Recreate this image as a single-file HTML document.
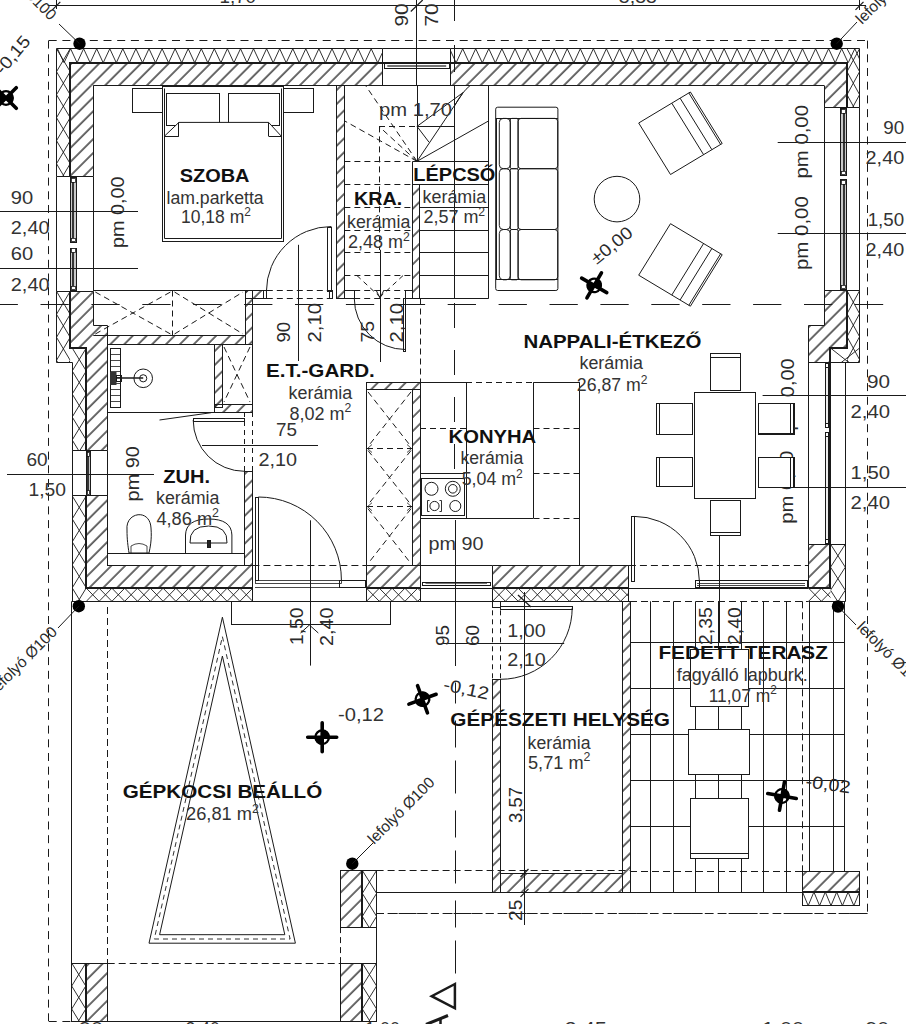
<!DOCTYPE html>
<html><head><meta charset="utf-8"><style>
html,body{margin:0;padding:0;background:#fff;}
svg{display:block;}
</style></head><body>
<svg width="906" height="1024" viewBox="0 0 906 1024">
<defs>
<pattern id="h" patternUnits="userSpaceOnUse" width="9.83" height="10" patternTransform="rotate(45)">
<line x1="6.93" y1="-1" x2="6.93" y2="11" stroke="#1a1a1a" stroke-width="1.3"/>
</pattern>
</defs>
<rect width="906" height="1024" fill="#fff"/>
<line x1="48.7" y1="40.5" x2="867.6" y2="40.5" stroke="#1a1a1a" stroke-width="1" stroke-dasharray="8,5.7"/>
<line x1="48.5" y1="40.6" x2="48.5" y2="1021.0" stroke="#1a1a1a" stroke-width="1" stroke-dasharray="8,5.7"/>
<line x1="867.5" y1="40.6" x2="867.5" y2="913.6" stroke="#1a1a1a" stroke-width="1" stroke-dasharray="8,5.7"/>
<line x1="376.0" y1="913.5" x2="868.0" y2="913.5" stroke="#1a1a1a" stroke-width="1" stroke-dasharray="8,5.7"/>
<line x1="48.7" y1="1021.5" x2="72.0" y2="1021.5" stroke="#1a1a1a" stroke-width="1" stroke-dasharray="8,5.7"/>
<rect x="70.2" y="62.8" width="312.2" height="22.8" fill="url(#h)" stroke="none"/>
<rect x="450.6" y="62.8" width="396.4" height="22.8" fill="url(#h)" stroke="none"/>
<rect x="70.2" y="85.6" width="23.1" height="91.0" fill="url(#h)" stroke="none"/>
<polygon points="70.5,291.5 93.5,291.5 93.5,325.5 107.5,325.5 107.5,450.5 86.5,450.5 86.5,348.5 70.5,348.5" fill="url(#h)" stroke="#1a1a1a" stroke-width="0"/>
<polygon points="86.5,495.5 107.5,495.5 107.5,565.5 252.5,565.5 252.5,588.5 86.5,588.5" fill="url(#h)" stroke="#1a1a1a" stroke-width="0"/>
<rect x="824.3" y="85.6" width="22.7" height="22.0" fill="url(#h)" stroke="none"/>
<polygon points="824.5,290.5 847.5,290.5 847.5,348.5 830.5,348.5 830.5,362.5 808.5,362.5 808.5,325.5 824.5,325.5" fill="url(#h)" stroke="#1a1a1a" stroke-width="0"/>
<rect x="366.5" y="565.6" width="53.9" height="22.6" fill="url(#h)" stroke="none"/>
<rect x="492.6" y="565.6" width="136.3" height="22.6" fill="url(#h)" stroke="none"/>
<rect x="808.6" y="544.2" width="21.9" height="44.0" fill="url(#h)" stroke="none"/>
<clipPath id="c15"><rect x="56.5" y="48.7" width="325.9" height="14.099999999999994"/></clipPath>
<g clip-path="url(#c15)">
<polyline points="44.4,48.7 51.0,62.8 57.5,48.7 64.0,62.8 70.6,48.7 77.1,62.8 83.6,48.7 90.2,62.8 96.7,48.7 103.2,62.8 109.8,48.7 116.3,62.8 122.8,48.7 129.4,62.8 135.9,48.7 142.5,62.8 149.0,48.7 155.5,62.8 162.1,48.7 168.6,62.8 175.1,48.7 181.7,62.8 188.2,48.7 194.7,62.8 201.3,48.7 207.8,62.8 214.3,48.7 220.9,62.8 227.4,48.7 233.9,62.8 240.5,48.7 247.0,62.8 253.5,48.7 260.1,62.8 266.6,48.7 273.2,62.8 279.7,48.7 286.2,62.8 292.8,48.7 299.3,62.8 305.8,48.7 312.4,62.8 318.9,48.7 325.4,62.8 332.0,48.7 338.5,62.8 345.0,48.7 351.6,62.8 358.1,48.7 364.6,62.8 371.2,48.7 377.7,62.8 384.3,48.7 390.8,62.8" fill="none" stroke="#1a1a1a" stroke-width="0.9"/>
</g>
<clipPath id="c19"><rect x="450.6" y="48.7" width="409.0" height="14.099999999999994"/></clipPath>
<g clip-path="url(#c19)">
<polyline points="44.4,48.7 51.0,62.8 57.5,48.7 64.0,62.8 70.6,48.7 77.1,62.8 83.6,48.7 90.2,62.8 96.7,48.7 103.2,62.8 109.8,48.7 116.3,62.8 122.8,48.7 129.4,62.8 135.9,48.7 142.5,62.8 149.0,48.7 155.5,62.8 162.1,48.7 168.6,62.8 175.1,48.7 181.7,62.8 188.2,48.7 194.7,62.8 201.3,48.7 207.8,62.8 214.3,48.7 220.9,62.8 227.4,48.7 233.9,62.8 240.5,48.7 247.0,62.8 253.5,48.7 260.1,62.8 266.6,48.7 273.2,62.8 279.7,48.7 286.2,62.8 292.8,48.7 299.3,62.8 305.8,48.7 312.4,62.8 318.9,48.7 325.4,62.8 332.0,48.7 338.5,62.8 345.0,48.7 351.6,62.8 358.1,48.7 364.6,62.8 371.2,48.7 377.7,62.8 384.3,48.7 390.8,62.8 397.3,48.7 403.9,62.8 410.4,48.7 416.9,62.8 423.5,48.7 430.0,62.8 436.5,48.7 443.1,62.8 449.6,48.7 456.1,62.8 462.7,48.7 469.2,62.8 475.7,48.7 482.3,62.8 488.8,48.7 495.3,62.8 501.9,48.7 508.4,62.8 515.0,48.7 521.5,62.8 528.0,48.7 534.6,62.8 541.1,48.7 547.6,62.8 554.2,48.7 560.7,62.8 567.2,48.7 573.8,62.8 580.3,48.7 586.8,62.8 593.4,48.7 599.9,62.8 606.4,48.7 613.0,62.8 619.5,48.7 626.0,62.8 632.6,48.7 639.1,62.8 645.7,48.7 652.2,62.8 658.7,48.7 665.3,62.8 671.8,48.7 678.3,62.8 684.9,48.7 691.4,62.8 697.9,48.7 704.5,62.8 711.0,48.7 717.5,62.8 724.1,48.7 730.6,62.8 737.1,48.7 743.7,62.8 750.2,48.7 756.7,62.8 763.3,48.7 769.8,62.8 776.3,48.7 782.9,62.8 789.4,48.7 796.0,62.8 802.5,48.7 809.0,62.8 815.6,48.7 822.1,62.8 828.6,48.7 835.2,62.8 841.7,48.7 848.2,62.8 854.8,48.7 861.3,62.8 867.8,48.7" fill="none" stroke="#1a1a1a" stroke-width="0.9"/>
</g>
<clipPath id="c23"><rect x="56.5" y="48.7" width="13.700000000000003" height="127.89999999999999"/></clipPath>
<g clip-path="url(#c23)">
<polyline points="56.5,2.7 70.2,25.7 56.5,48.7 70.2,71.7 56.5,94.7 70.2,117.7 56.5,140.7 70.2,163.7 56.5,186.7 70.2,209.7" fill="none" stroke="#1a1a1a" stroke-width="0.9"/>
<polyline points="70.2,2.7 56.5,25.7 70.2,48.7 56.5,71.7 70.2,94.7 56.5,117.7 70.2,140.7 56.5,163.7 70.2,186.7 56.5,209.7" fill="none" stroke="#1a1a1a" stroke-width="0.9"/>
</g>
<clipPath id="c28"><rect x="56.5" y="291.3" width="13.700000000000003" height="70.69999999999999"/></clipPath>
<g clip-path="url(#c28)">
<polyline points="56.5,245.3 70.2,268.3 56.5,291.3 70.2,314.3 56.5,337.3 70.2,360.3 56.5,383.3 70.2,406.3" fill="none" stroke="#1a1a1a" stroke-width="0.9"/>
<polyline points="70.2,245.3 56.5,268.3 70.2,291.3 56.5,314.3 70.2,337.3 56.5,360.3 70.2,383.3 56.5,406.3" fill="none" stroke="#1a1a1a" stroke-width="0.9"/>
</g>
<clipPath id="c33"><rect x="72.2" y="348" width="14.099999999999994" height="102.69999999999999"/></clipPath>
<g clip-path="url(#c33)">
<polyline points="72.2,302.0 86.3,325.0 72.2,348.0 86.3,371.0 72.2,394.0 86.3,417.0 72.2,440.0 86.3,463.0 72.2,486.0" fill="none" stroke="#1a1a1a" stroke-width="0.9"/>
<polyline points="86.3,302.0 72.2,325.0 86.3,348.0 72.2,371.0 86.3,394.0 72.2,417.0 86.3,440.0 72.2,463.0 86.3,486.0" fill="none" stroke="#1a1a1a" stroke-width="0.9"/>
</g>
<clipPath id="c38"><rect x="72.2" y="495.9" width="14.099999999999994" height="105.39999999999998"/></clipPath>
<g clip-path="url(#c38)">
<polyline points="72.2,449.9 86.3,472.9 72.2,495.9 86.3,518.9 72.2,541.9 86.3,564.9 72.2,587.9 86.3,610.9 72.2,633.9" fill="none" stroke="#1a1a1a" stroke-width="0.9"/>
<polyline points="86.3,449.9 72.2,472.9 86.3,495.9 72.2,518.9 86.3,541.9 72.2,564.9 86.3,587.9 72.2,610.9 86.3,633.9" fill="none" stroke="#1a1a1a" stroke-width="0.9"/>
</g>
<clipPath id="c43"><rect x="847.0" y="48.7" width="12.600000000000023" height="58.89999999999999"/></clipPath>
<g clip-path="url(#c43)">
<polyline points="847.0,2.7 859.6,25.7 847.0,48.7 859.6,71.7 847.0,94.7 859.6,117.7 847.0,140.7" fill="none" stroke="#1a1a1a" stroke-width="0.9"/>
<polyline points="859.6,2.7 847.0,25.7 859.6,48.7 847.0,71.7 859.6,94.7 847.0,117.7 859.6,140.7" fill="none" stroke="#1a1a1a" stroke-width="0.9"/>
</g>
<clipPath id="c48"><rect x="847.0" y="290.7" width="12.600000000000023" height="71.30000000000001"/></clipPath>
<g clip-path="url(#c48)">
<polyline points="847.0,244.7 859.6,267.7 847.0,290.7 859.6,313.7 847.0,336.7 859.6,359.7 847.0,382.7 859.6,405.7" fill="none" stroke="#1a1a1a" stroke-width="0.9"/>
<polyline points="859.6,244.7 847.0,267.7 859.6,290.7 847.0,313.7 859.6,336.7 847.0,359.7 859.6,382.7 847.0,405.7" fill="none" stroke="#1a1a1a" stroke-width="0.9"/>
</g>
<clipPath id="c53"><rect x="830.5" y="348" width="29.100000000000023" height="14"/></clipPath>
<g clip-path="url(#c53)">
<polyline points="830.5,302.0 859.6,325.0 830.5,348.0 859.6,371.0 830.5,394.0" fill="none" stroke="#1a1a1a" stroke-width="0.9"/>
<polyline points="859.6,302.0 830.5,325.0 859.6,348.0 830.5,371.0 859.6,394.0" fill="none" stroke="#1a1a1a" stroke-width="0.9"/>
</g>
<clipPath id="c58"><rect x="830.5" y="544.2" width="14.799999999999955" height="57.09999999999991"/></clipPath>
<g clip-path="url(#c58)">
<polyline points="830.5,498.2 845.3,521.2 830.5,544.2 845.3,567.2 830.5,590.2 845.3,613.2 830.5,636.2" fill="none" stroke="#1a1a1a" stroke-width="0.9"/>
<polyline points="845.3,498.2 830.5,521.2 845.3,544.2 830.5,567.2 845.3,590.2 830.5,613.2 845.3,636.2" fill="none" stroke="#1a1a1a" stroke-width="0.9"/>
</g>
<clipPath id="c63"><rect x="86.3" y="588.2" width="166.10000000000002" height="13.099999999999909"/></clipPath>
<g clip-path="url(#c63)">
<polyline points="60.7,588.2 73.5,601.3 86.3,588.2 99.1,601.3 111.9,588.2 124.7,601.3 137.5,588.2 150.3,601.3 163.1,588.2 175.9,601.3 188.7,588.2 201.5,601.3 214.3,588.2 227.1,601.3 239.9,588.2 252.7,601.3 265.5,588.2" fill="none" stroke="#1a1a1a" stroke-width="0.9"/>
<polyline points="60.7,601.3 73.5,588.2 86.3,601.3 99.1,588.2 111.9,601.3 124.7,588.2 137.5,601.3 150.3,588.2 163.1,601.3 175.9,588.2 188.7,601.3 201.5,588.2 214.3,601.3 227.1,588.2 239.9,601.3 252.7,588.2 265.5,601.3" fill="none" stroke="#1a1a1a" stroke-width="0.9"/>
</g>
<clipPath id="c68"><rect x="366.5" y="588.2" width="53.89999999999998" height="13.099999999999909"/></clipPath>
<g clip-path="url(#c68)">
<polyline points="340.9,588.2 353.7,601.3 366.5,588.2 379.3,601.3 392.1,588.2 404.9,601.3 417.7,588.2 430.5,601.3 443.3,588.2" fill="none" stroke="#1a1a1a" stroke-width="0.9"/>
<polyline points="340.9,601.3 353.7,588.2 366.5,601.3 379.3,588.2 392.1,601.3 404.9,588.2 417.7,601.3 430.5,588.2 443.3,601.3" fill="none" stroke="#1a1a1a" stroke-width="0.9"/>
</g>
<clipPath id="c73"><rect x="492.6" y="588.2" width="136.29999999999995" height="13.099999999999909"/></clipPath>
<g clip-path="url(#c73)">
<polyline points="467.0,588.2 479.8,601.3 492.6,588.2 505.4,601.3 518.2,588.2 531.0,601.3 543.8,588.2 556.6,601.3 569.4,588.2 582.2,601.3 595.0,588.2 607.8,601.3 620.6,588.2 633.4,601.3 646.2,588.2" fill="none" stroke="#1a1a1a" stroke-width="0.9"/>
<polyline points="467.0,601.3 479.8,588.2 492.6,601.3 505.4,588.2 518.2,601.3 531.0,588.2 543.8,601.3 556.6,588.2 569.4,601.3 582.2,588.2 595.0,601.3 607.8,588.2 620.6,601.3 633.4,588.2 646.2,601.3" fill="none" stroke="#1a1a1a" stroke-width="0.9"/>
</g>
<clipPath id="c78"><rect x="808.6" y="588.2" width="21.899999999999977" height="13.099999999999909"/></clipPath>
<g clip-path="url(#c78)">
<polyline points="783.0,588.2 795.8,601.3 808.6,588.2 821.4,601.3 834.2,588.2 847.0,601.3" fill="none" stroke="#1a1a1a" stroke-width="0.9"/>
<polyline points="783.0,601.3 795.8,588.2 808.6,601.3 821.4,588.2 834.2,601.3 847.0,588.2" fill="none" stroke="#1a1a1a" stroke-width="0.9"/>
</g>
<polyline points="382.5,48.5 56.5,48.5 56.5,176.5" fill="none" stroke="#1a1a1a" stroke-width="1"/>
<polyline points="450.5,48.5 859.5,48.5 859.5,107.5" fill="none" stroke="#1a1a1a" stroke-width="1"/>
<polyline points="56.5,291.5 56.5,362.5 72.5,362.5 72.5,450.5" fill="none" stroke="#1a1a1a" stroke-width="1"/>
<polyline points="72.5,495.5 72.5,601.5 252.5,601.5" fill="none" stroke="#1a1a1a" stroke-width="1"/>
<polyline points="859.5,290.5 859.5,362.5 845.5,362.5 845.5,601.5 808.5,601.5" fill="none" stroke="#1a1a1a" stroke-width="1"/>
<line x1="72.0" y1="601.5" x2="628.9" y2="601.5" stroke="#1a1a1a" stroke-width="1"/>
<polyline points="382.0,63.0 70.0,63.0 70.0,177.0" fill="none" stroke="#1a1a1a" stroke-width="2"/>
<polyline points="451.0,63.0 847.0,63.0 847.0,108.0" fill="none" stroke="#1a1a1a" stroke-width="2"/>
<line x1="382.4" y1="63.0" x2="450.6" y2="63.0" stroke="#1a1a1a" stroke-width="2"/>
<polyline points="70.0,291.0 70.0,348.0 86.0,348.0 86.0,451.0" fill="none" stroke="#1a1a1a" stroke-width="2"/>
<polyline points="86.0,496.0 86.0,588.0 252.0,588.0" fill="none" stroke="#1a1a1a" stroke-width="2"/>
<polyline points="847.0,291.0 847.0,348.0 830.0,348.0 830.0,362.0" fill="none" stroke="#1a1a1a" stroke-width="2"/>
<polyline points="830.0,544.0 830.0,588.0 809.0,588.0" fill="none" stroke="#1a1a1a" stroke-width="2"/>
<line x1="366.5" y1="588.0" x2="420.4" y2="588.0" stroke="#1a1a1a" stroke-width="2"/>
<line x1="492.6" y1="588.0" x2="628.9" y2="588.0" stroke="#1a1a1a" stroke-width="2"/>
<line x1="93.3" y1="85.5" x2="824.3" y2="85.5" stroke="#1a1a1a" stroke-width="1"/>
<line x1="93.5" y1="85.6" x2="93.5" y2="176.6" stroke="#1a1a1a" stroke-width="1"/>
<line x1="824.5" y1="85.6" x2="824.5" y2="107.6" stroke="#1a1a1a" stroke-width="1"/>
<line x1="382.5" y1="48.7" x2="382.5" y2="85.6" stroke="#1a1a1a" stroke-width="1"/>
<line x1="450.5" y1="48.7" x2="450.5" y2="85.6" stroke="#1a1a1a" stroke-width="1"/>
<line x1="56.5" y1="176.5" x2="93.3" y2="176.5" stroke="#1a1a1a" stroke-width="1"/>
<line x1="56.5" y1="291.5" x2="93.3" y2="291.5" stroke="#1a1a1a" stroke-width="1"/>
<line x1="72.2" y1="450.5" x2="107.6" y2="450.5" stroke="#1a1a1a" stroke-width="1"/>
<line x1="72.2" y1="495.5" x2="107.6" y2="495.5" stroke="#1a1a1a" stroke-width="1"/>
<line x1="824.3" y1="107.5" x2="859.6" y2="107.5" stroke="#1a1a1a" stroke-width="1"/>
<line x1="824.3" y1="290.5" x2="859.6" y2="290.5" stroke="#1a1a1a" stroke-width="1"/>
<line x1="808.6" y1="362.5" x2="845.3" y2="362.5" stroke="#1a1a1a" stroke-width="1"/>
<line x1="808.6" y1="544.5" x2="845.3" y2="544.5" stroke="#1a1a1a" stroke-width="1"/>
<polyline points="93.5,291.5 93.5,325.5 107.5,325.5 107.5,450.5" fill="none" stroke="#1a1a1a" stroke-width="1"/>
<polyline points="107.5,495.5 107.5,565.5 252.5,565.5" fill="none" stroke="#1a1a1a" stroke-width="1"/>
<polyline points="824.5,290.5 824.5,325.5 808.5,325.5 808.5,362.5" fill="none" stroke="#1a1a1a" stroke-width="1"/>
<line x1="808.5" y1="544.2" x2="808.5" y2="588.2" stroke="#1a1a1a" stroke-width="1"/>
<line x1="252.5" y1="565.6" x2="252.5" y2="601.3" stroke="#1a1a1a" stroke-width="1"/>
<line x1="366.5" y1="565.6" x2="366.5" y2="601.3" stroke="#1a1a1a" stroke-width="1"/>
<line x1="420.5" y1="565.6" x2="420.5" y2="601.3" stroke="#1a1a1a" stroke-width="1"/>
<line x1="492.5" y1="565.6" x2="492.5" y2="601.3" stroke="#1a1a1a" stroke-width="1"/>
<line x1="628.5" y1="565.6" x2="628.5" y2="601.3" stroke="#1a1a1a" stroke-width="1"/>
<line x1="366.5" y1="565.5" x2="420.4" y2="565.5" stroke="#1a1a1a" stroke-width="1"/>
<line x1="492.6" y1="565.5" x2="628.9" y2="565.5" stroke="#1a1a1a" stroke-width="1"/>
<line x1="420.4" y1="565.5" x2="492.6" y2="565.5" stroke="#1a1a1a" stroke-width="1"/>
<line x1="628.9" y1="565.5" x2="808.6" y2="565.5" stroke="#1a1a1a" stroke-width="1" stroke-dasharray="7,4"/>
<line x1="252.4" y1="565.5" x2="366.5" y2="565.5" stroke="#1a1a1a" stroke-width="1" stroke-dasharray="7,4"/>
<rect x="384.5" y="63.5" width="65.0" height="5.0" fill="none" stroke="#1a1a1a" stroke-width="1"/>
<line x1="387.3" y1="65.5" x2="446.2" y2="65.5" stroke="#1a1a1a" stroke-width="0.6"/>
<line x1="387.3" y1="66.5" x2="446.2" y2="66.5" stroke="#1a1a1a" stroke-width="0.6"/>
<line x1="382.4" y1="85.5" x2="450.6" y2="85.5" stroke="#1a1a1a" stroke-width="1"/>
<line x1="382.4" y1="48.5" x2="450.6" y2="48.5" stroke="#1a1a1a" stroke-width="1"/>
<rect x="70.5" y="177.5" width="6.0" height="65.0" fill="#c8c8c8" stroke="#1a1a1a" stroke-width="1"/>
<rect x="71.5" y="178.5" width="4.0" height="4.0" fill="#fff" stroke="#1a1a1a" stroke-width="0.8"/>
<rect x="71.5" y="238.5" width="4.0" height="3.0" fill="#fff" stroke="#1a1a1a" stroke-width="0.8"/>
<line x1="73.0" y1="182.0" x2="73.0" y2="238.0" stroke="#111" stroke-width="1.6"/>
<rect x="70.5" y="248.5" width="6.0" height="42.0" fill="#c8c8c8" stroke="#1a1a1a" stroke-width="1"/>
<rect x="71.5" y="248.5" width="4.0" height="4.0" fill="#fff" stroke="#1a1a1a" stroke-width="0.8"/>
<rect x="71.5" y="286.5" width="4.0" height="3.0" fill="#fff" stroke="#1a1a1a" stroke-width="0.8"/>
<line x1="73.0" y1="252.5" x2="73.0" y2="286.0" stroke="#111" stroke-width="1.6"/>
<line x1="93.5" y1="176.6" x2="93.5" y2="291.3" stroke="#1a1a1a" stroke-width="1"/>
<line x1="56.5" y1="176.6" x2="56.5" y2="291.3" stroke="#1a1a1a" stroke-width="1"/>
<rect x="86.5" y="451.5" width="4.0" height="44.0" fill="#c8c8c8" stroke="#1a1a1a" stroke-width="1"/>
<rect x="87.5" y="452.5" width="2.0" height="4.0" fill="#fff" stroke="#1a1a1a" stroke-width="0.8"/>
<rect x="87.5" y="490.5" width="2.0" height="4.0" fill="#fff" stroke="#1a1a1a" stroke-width="0.8"/>
<line x1="88.0" y1="456.0" x2="88.0" y2="490.5" stroke="#111" stroke-width="1.6"/>
<line x1="107.5" y1="450.7" x2="107.5" y2="495.9" stroke="#1a1a1a" stroke-width="1"/>
<line x1="72.5" y1="450.7" x2="72.5" y2="495.9" stroke="#1a1a1a" stroke-width="1"/>
<rect x="840.5" y="108.5" width="6.0" height="67.0" fill="#c8c8c8" stroke="#1a1a1a" stroke-width="1"/>
<rect x="841.5" y="109.5" width="4.0" height="4.0" fill="#fff" stroke="#1a1a1a" stroke-width="0.8"/>
<rect x="841.5" y="171.5" width="4.0" height="3.0" fill="#fff" stroke="#1a1a1a" stroke-width="0.8"/>
<line x1="844.0" y1="113.0" x2="844.0" y2="171.0" stroke="#111" stroke-width="1.6"/>
<rect x="840.5" y="179.5" width="6.0" height="110.0" fill="#c8c8c8" stroke="#1a1a1a" stroke-width="1"/>
<rect x="841.5" y="180.5" width="4.0" height="4.0" fill="#fff" stroke="#1a1a1a" stroke-width="0.8"/>
<rect x="841.5" y="285.5" width="4.0" height="3.0" fill="#fff" stroke="#1a1a1a" stroke-width="0.8"/>
<line x1="844.0" y1="184.0" x2="844.0" y2="285.0" stroke="#111" stroke-width="1.6"/>
<line x1="824.5" y1="107.6" x2="824.5" y2="290.7" stroke="#1a1a1a" stroke-width="1"/>
<line x1="859.5" y1="107.6" x2="859.5" y2="290.7" stroke="#1a1a1a" stroke-width="1"/>
<line x1="830.0" y1="362.0" x2="830.0" y2="544.2" stroke="#1a1a1a" stroke-width="2"/>
<rect x="825.5" y="363.5" width="3.0" height="64.0" fill="#eee" stroke="#1a1a1a" stroke-width="1"/>
<rect x="825.5" y="363.5" width="3.0" height="4.0" fill="#fff" stroke="#1a1a1a" stroke-width="1"/>
<rect x="825.5" y="423.5" width="3.0" height="4.0" fill="#fff" stroke="#1a1a1a" stroke-width="1"/>
<rect x="825.5" y="432.5" width="3.0" height="111.0" fill="#eee" stroke="#1a1a1a" stroke-width="1"/>
<rect x="825.5" y="432.5" width="3.0" height="4.0" fill="#fff" stroke="#1a1a1a" stroke-width="1"/>
<rect x="825.5" y="539.5" width="3.0" height="4.0" fill="#fff" stroke="#1a1a1a" stroke-width="1"/>
<line x1="845.5" y1="362.0" x2="845.5" y2="544.2" stroke="#1a1a1a" stroke-width="1"/>
<rect x="422.5" y="582.5" width="68.0" height="3.0" fill="none" stroke="#1a1a1a" stroke-width="1"/>
<line x1="425.5" y1="583.5" x2="487.0" y2="583.5" stroke="#1a1a1a" stroke-width="0.6"/>
<line x1="425.5" y1="585.5" x2="487.0" y2="585.5" stroke="#1a1a1a" stroke-width="0.6"/>
<line x1="420.4" y1="588.5" x2="492.6" y2="588.5" stroke="#1a1a1a" stroke-width="1"/>
<rect x="695.5" y="580.5" width="112.0" height="7.0" fill="none" stroke="#1a1a1a" stroke-width="1"/>
<line x1="697.0" y1="583.5" x2="805.0" y2="583.5" stroke="#1a1a1a" stroke-width="0.8"/>
<line x1="697.0" y1="585.5" x2="805.0" y2="585.5" stroke="#1a1a1a" stroke-width="0.8"/>
<line x1="628.9" y1="588.5" x2="808.6" y2="588.5" stroke="#1a1a1a" stroke-width="1"/>
<rect x="336.5" y="85.5" width="8.0" height="213.0" fill="url(#h)" stroke="#1a1a1a" stroke-width="1"/>
<rect x="412.5" y="184.5" width="7.0" height="114.0" fill="url(#h)" stroke="#1a1a1a" stroke-width="1"/>
<line x1="412.5" y1="161.4" x2="412.5" y2="184.2" stroke="#1a1a1a" stroke-width="1"/>
<rect x="245.5" y="290.5" width="18.0" height="8.0" fill="url(#h)" stroke="#1a1a1a" stroke-width="1"/>
<line x1="93.3" y1="290.5" x2="245.0" y2="290.5" stroke="#1a1a1a" stroke-width="1"/>
<rect x="263.5" y="290.5" width="3.0" height="8.0" fill="none" stroke="#1a1a1a" stroke-width="1"/>
<rect x="329.5" y="290.5" width="3.0" height="8.0" fill="none" stroke="#1a1a1a" stroke-width="1"/>
<rect x="344.5" y="290.5" width="10.0" height="8.0" fill="none" stroke="#1a1a1a" stroke-width="1"/>
<rect x="405.5" y="290.5" width="7.0" height="8.0" fill="none" stroke="#1a1a1a" stroke-width="1"/>
<line x1="266.8" y1="290.5" x2="329.4" y2="290.5" stroke="#1a1a1a" stroke-width="1" stroke-dasharray="6,4"/>
<line x1="266.8" y1="298.5" x2="329.4" y2="298.5" stroke="#1a1a1a" stroke-width="1" stroke-dasharray="6,4"/>
<line x1="354.2" y1="290.5" x2="405.9" y2="290.5" stroke="#1a1a1a" stroke-width="1" stroke-dasharray="6,4"/>
<line x1="354.2" y1="298.5" x2="405.9" y2="298.5" stroke="#1a1a1a" stroke-width="1" stroke-dasharray="6,4"/>
<line x1="252.4" y1="298.5" x2="263.8" y2="298.5" stroke="#1a1a1a" stroke-width="1"/>
<rect x="93.3" y="290.5" width="79.2" height="45.1" fill="none" stroke="none"/>
<line x1="93.3" y1="335.5" x2="245.0" y2="335.5" stroke="#1a1a1a" stroke-width="1"/>
<line x1="172.5" y1="290.5" x2="172.5" y2="335.6" stroke="#1a1a1a" stroke-width="1" stroke-dasharray="6,4"/>
<line x1="95.3" y1="292.0" x2="170.5" y2="334.0" stroke="#1a1a1a" stroke-width="1" stroke-dasharray="6,4"/>
<line x1="95.3" y1="334.0" x2="170.5" y2="292.0" stroke="#1a1a1a" stroke-width="1" stroke-dasharray="6,4"/>
<line x1="174.5" y1="292.0" x2="243.0" y2="334.0" stroke="#1a1a1a" stroke-width="1" stroke-dasharray="6,4"/>
<line x1="174.5" y1="334.0" x2="243.0" y2="292.0" stroke="#1a1a1a" stroke-width="1" stroke-dasharray="6,4"/>
<rect x="107.5" y="335.5" width="138.0" height="9.0" fill="url(#h)" stroke="#1a1a1a" stroke-width="1"/>
<rect x="245.5" y="290.5" width="7.0" height="54.0" fill="url(#h)" stroke="#1a1a1a" stroke-width="1"/>
<rect x="107.5" y="344.5" width="107.0" height="68.0" fill="none" stroke="#1a1a1a" stroke-width="1"/>
<rect x="214.5" y="344.5" width="8.0" height="63.0" fill="url(#h)" stroke="#1a1a1a" stroke-width="1"/>
<rect x="222.5" y="344.5" width="30.0" height="60.0" fill="none" stroke="#1a1a1a" stroke-width="1"/>
<line x1="224.0" y1="347.0" x2="250.0" y2="402.0" stroke="#1a1a1a" stroke-width="1" stroke-dasharray="6,4"/>
<line x1="250.0" y1="347.0" x2="224.0" y2="402.0" stroke="#1a1a1a" stroke-width="1" stroke-dasharray="6,4"/>
<rect x="214.5" y="404.5" width="38.0" height="8.0" fill="url(#h)" stroke="#1a1a1a" stroke-width="1"/>
<line x1="107.6" y1="412.5" x2="245.0" y2="412.5" stroke="#1a1a1a" stroke-width="1"/>
<rect x="110.5" y="348.5" width="10.0" height="59.0" fill="none" stroke="#1a1a1a" stroke-width="1"/>
<line x1="110.9" y1="354.5" x2="120.2" y2="354.5" stroke="#1a1a1a" stroke-width="0.8"/>
<line x1="110.9" y1="360.5" x2="120.2" y2="360.5" stroke="#1a1a1a" stroke-width="0.8"/>
<line x1="110.9" y1="366.5" x2="120.2" y2="366.5" stroke="#1a1a1a" stroke-width="0.8"/>
<line x1="110.9" y1="371.5" x2="120.2" y2="371.5" stroke="#1a1a1a" stroke-width="0.8"/>
<line x1="110.9" y1="377.5" x2="120.2" y2="377.5" stroke="#1a1a1a" stroke-width="0.8"/>
<line x1="110.9" y1="383.5" x2="120.2" y2="383.5" stroke="#1a1a1a" stroke-width="0.8"/>
<line x1="110.9" y1="389.5" x2="120.2" y2="389.5" stroke="#1a1a1a" stroke-width="0.8"/>
<line x1="110.9" y1="395.5" x2="120.2" y2="395.5" stroke="#1a1a1a" stroke-width="0.8"/>
<line x1="110.9" y1="401.5" x2="120.2" y2="401.5" stroke="#1a1a1a" stroke-width="0.8"/>
<line x1="113.0" y1="378.0" x2="143.2" y2="378.0" stroke="#1a1a1a" stroke-width="1.5"/>
<circle cx="143.2" cy="378.3" r="9.3" fill="none" stroke="#1a1a1a" stroke-width="1"/>
<circle cx="143.2" cy="378.3" r="3.6" fill="none" stroke="#1a1a1a" stroke-width="1"/>
<rect x="110.0" y="372.0" width="6.5" height="13.0" fill="#333" stroke="none"/>
<rect x="116.5" y="375.5" width="5.0" height="6.0" fill="none" stroke="#1a1a1a" stroke-width="1"/>
<line x1="159.5" y1="420.0" x2="211.2" y2="412.7" stroke="#1a1a1a" stroke-width="1"/>
<line x1="244.5" y1="412.0" x2="244.5" y2="471.7" stroke="#1a1a1a" stroke-width="1" stroke-dasharray="5,4"/>
<line x1="252.5" y1="412.0" x2="252.5" y2="471.7" stroke="#1a1a1a" stroke-width="1" stroke-dasharray="5,4"/>
<rect x="244.5" y="471.5" width="8.0" height="94.0" fill="url(#h)" stroke="#1a1a1a" stroke-width="1"/>
<line x1="252.5" y1="298.5" x2="252.5" y2="412.0" stroke="#1a1a1a" stroke-width="1"/>
<rect x="193.5" y="418.5" width="51.0" height="3.0" fill="none" stroke="#1a1a1a" stroke-width="1"/>
<path d="M193.2,420.0 A51.3,51.3 0 0 0 244.5,471.3" fill="none" stroke="#1a1a1a" stroke-width="1"/>
<rect x="107.5" y="553.5" width="137.0" height="12.0" fill="none" stroke="#1a1a1a" stroke-width="1"/>
<path d="M127,530 C125,512 150,508 151,528 C152,540 150,548 149,553 L129,553 C128,546 127,540 127,530 Z" fill="none" stroke="#1a1a1a" stroke-width="1"/>
<path d="M131,553 L131,546 Q139,541 147,546 L147,553" fill="none" stroke="#1a1a1a" stroke-width="0.8"/>
<path d="M185.5,553 L185.5,535 Q186,519 208.7,519 Q231.5,519 231.9,535 L231.9,553" fill="none" stroke="#1a1a1a" stroke-width="1"/>
<path d="M190,543 Q189,526 208.7,526 Q228,526 227,543 Z" fill="none" stroke="#1a1a1a" stroke-width="1"/>
<rect x="207.5" y="540.5" width="3.0" height="7.0" fill="#222" stroke="#1a1a1a" stroke-width="1"/>
<rect x="366.5" y="382.5" width="54.0" height="7.0" fill="url(#h)" stroke="#1a1a1a" stroke-width="1"/>
<rect x="412.5" y="389.5" width="8.0" height="176.0" fill="url(#h)" stroke="#1a1a1a" stroke-width="1"/>
<line x1="366.5" y1="382.3" x2="366.5" y2="565.6" stroke="#1a1a1a" stroke-width="1"/>
<line x1="368.0" y1="391.9" x2="411.0" y2="446.5" stroke="#1a1a1a" stroke-width="1" stroke-dasharray="6,4"/>
<line x1="411.0" y1="391.9" x2="368.0" y2="446.5" stroke="#1a1a1a" stroke-width="1" stroke-dasharray="6,4"/>
<line x1="368.0" y1="450.5" x2="411.0" y2="504.7" stroke="#1a1a1a" stroke-width="1" stroke-dasharray="6,4"/>
<line x1="411.0" y1="450.5" x2="368.0" y2="504.7" stroke="#1a1a1a" stroke-width="1" stroke-dasharray="6,4"/>
<line x1="368.0" y1="508.7" x2="411.0" y2="563.6" stroke="#1a1a1a" stroke-width="1" stroke-dasharray="6,4"/>
<line x1="411.0" y1="508.7" x2="368.0" y2="563.6" stroke="#1a1a1a" stroke-width="1" stroke-dasharray="6,4"/>
<line x1="367.0" y1="448.5" x2="412.0" y2="448.5" stroke="#1a1a1a" stroke-width="1" stroke-dasharray="6,4"/>
<polyline points="372.0,444.5 367.5,448.5 372.0,452.5" fill="none" stroke="#1a1a1a" stroke-width="0.8"/>
<polyline points="407.0,444.5 411.5,448.5 407.0,452.5" fill="none" stroke="#1a1a1a" stroke-width="0.8"/>
<line x1="367.0" y1="506.5" x2="412.0" y2="506.5" stroke="#1a1a1a" stroke-width="1" stroke-dasharray="6,4"/>
<polyline points="372.0,502.7 367.5,506.7 372.0,510.7" fill="none" stroke="#1a1a1a" stroke-width="0.8"/>
<polyline points="407.0,502.7 411.5,506.7 407.0,510.7" fill="none" stroke="#1a1a1a" stroke-width="0.8"/>
<rect x="255.5" y="497.5" width="3.0" height="83.0" fill="none" stroke="#1a1a1a" stroke-width="1"/>
<path d="M258.4,497.0 A83.0,83.0 0 0 1 341.4,580.0" fill="none" stroke="#1a1a1a" stroke-width="1"/>
<rect x="255.5" y="580.5" width="86.0" height="3.0" fill="none" stroke="#1a1a1a" stroke-width="0.8"/>
<line x1="255.0" y1="587.5" x2="341.0" y2="587.5" stroke="#1a1a1a" stroke-width="0.8"/>
<rect x="339.5" y="580.5" width="26.0" height="7.0" fill="none" stroke="#1a1a1a" stroke-width="1"/>
<line x1="310.5" y1="520.3" x2="310.5" y2="665.6" stroke="#1a1a1a" stroke-width="1"/>
<rect x="231.5" y="601.5" width="159.0" height="23.0" fill="none" stroke="#1a1a1a" stroke-width="1"/>
<line x1="420.0" y1="382.5" x2="466.0" y2="382.5" stroke="#1a1a1a" stroke-width="1"/>
<line x1="466.0" y1="382.5" x2="533.5" y2="382.5" stroke="#1a1a1a" stroke-width="1" stroke-dasharray="6,4"/>
<line x1="533.5" y1="382.5" x2="579.8" y2="382.5" stroke="#1a1a1a" stroke-width="1"/>
<line x1="466.5" y1="382.3" x2="466.5" y2="518.0" stroke="#1a1a1a" stroke-width="1"/>
<line x1="533.5" y1="382.3" x2="533.5" y2="518.0" stroke="#1a1a1a" stroke-width="1"/>
<line x1="579.5" y1="382.3" x2="579.5" y2="565.6" stroke="#1a1a1a" stroke-width="1"/>
<line x1="420.0" y1="518.5" x2="533.5" y2="518.5" stroke="#1a1a1a" stroke-width="1"/>
<line x1="533.5" y1="518.5" x2="579.8" y2="518.5" stroke="#1a1a1a" stroke-width="1" stroke-dasharray="6,4"/>
<line x1="533.5" y1="428.5" x2="579.8" y2="428.5" stroke="#1a1a1a" stroke-width="1" stroke-dasharray="6,4"/>
<line x1="533.5" y1="473.5" x2="579.8" y2="473.5" stroke="#1a1a1a" stroke-width="1" stroke-dasharray="6,4"/>
<line x1="420.0" y1="428.5" x2="466.0" y2="428.5" stroke="#1a1a1a" stroke-width="1" stroke-dasharray="6,4"/>
<rect x="421.5" y="478.5" width="43.0" height="37.0" fill="none" stroke="#1a1a1a" stroke-width="1"/>
<line x1="421.0" y1="473.5" x2="464.9" y2="473.5" stroke="#1a1a1a" stroke-width="1"/>
<circle cx="431.5" cy="488.8" r="6.5" fill="none" stroke="#1a1a1a" stroke-width="1"/>
<circle cx="452.8" cy="488.8" r="7.5" fill="none" stroke="#1a1a1a" stroke-width="1"/>
<circle cx="452.8" cy="488.8" r="4.3" fill="none" stroke="#1a1a1a" stroke-width="1"/>
<circle cx="434.5" cy="506.0" r="4.6" fill="none" stroke="#1a1a1a" stroke-width="1"/>
<circle cx="455.3" cy="506.0" r="5.5" fill="none" stroke="#1a1a1a" stroke-width="1"/>
<polyline points="429.5,500.5 427.5,500.5 427.5,511.5 429.5,511.5" fill="none" stroke="#1a1a1a" stroke-width="0.9"/>
<polyline points="439.5,500.5 441.5,500.5 441.5,511.5 439.5,511.5" fill="none" stroke="#1a1a1a" stroke-width="0.9"/>
<rect x="631.5" y="516.5" width="3.0" height="65.0" fill="none" stroke="#1a1a1a" stroke-width="1"/>
<path d="M634.4,516.4 A65.0,65.0 0 0 1 699.4,581.4" fill="none" stroke="#1a1a1a" stroke-width="1"/>
<line x1="699.5" y1="580.6" x2="699.5" y2="587.5" stroke="#1a1a1a" stroke-width="1"/>
<line x1="492.5" y1="601.3" x2="492.5" y2="679.3" stroke="#1a1a1a" stroke-width="1" stroke-dasharray="5,4"/>
<line x1="500.5" y1="601.3" x2="500.5" y2="679.3" stroke="#1a1a1a" stroke-width="1" stroke-dasharray="5,4"/>
<rect x="492.5" y="601.5" width="8.0" height="6.0" fill="none" stroke="#1a1a1a" stroke-width="1"/>
<rect x="492.5" y="679.5" width="8.0" height="213.0" fill="url(#h)" stroke="#1a1a1a" stroke-width="1"/>
<rect x="622.5" y="601.5" width="8.0" height="291.0" fill="url(#h)" stroke="#1a1a1a" stroke-width="1"/>
<rect x="500.5" y="873.5" width="122.0" height="19.0" fill="url(#h)" stroke="#1a1a1a" stroke-width="1"/>
<line x1="500.7" y1="873.5" x2="622.0" y2="873.5" stroke="#1a1a1a" stroke-width="1"/>
<rect x="500.5" y="606.5" width="72.0" height="3.0" fill="none" stroke="#1a1a1a" stroke-width="1"/>
<path d="M572.2,607.8 A71.5,71.5 0 0 1 500.7,679.3" fill="none" stroke="#1a1a1a" stroke-width="1"/>
<line x1="344.5" y1="85.6" x2="344.5" y2="298.5" stroke="#1a1a1a" stroke-width="1"/>
<line x1="488.5" y1="85.6" x2="488.5" y2="298.1" stroke="#1a1a1a" stroke-width="1"/>
<line x1="417.5" y1="85.6" x2="417.5" y2="161.3" stroke="#1a1a1a" stroke-width="1"/>
<line x1="454.5" y1="85.6" x2="454.5" y2="298.1" stroke="#1a1a1a" stroke-width="1"/>
<line x1="379.0" y1="126.5" x2="417.0" y2="126.5" stroke="#1a1a1a" stroke-width="1" stroke-dasharray="6,4"/>
<line x1="379.5" y1="126.4" x2="379.5" y2="250.0" stroke="#1a1a1a" stroke-width="1" stroke-dasharray="6,4"/>
<line x1="417.0" y1="126.5" x2="454.5" y2="126.5" stroke="#1a1a1a" stroke-width="1"/>
<line x1="344.4" y1="161.5" x2="412.6" y2="161.5" stroke="#1a1a1a" stroke-width="1" stroke-dasharray="6,4"/>
<line x1="412.6" y1="161.5" x2="488.8" y2="161.5" stroke="#1a1a1a" stroke-width="1"/>
<line x1="344.4" y1="184.5" x2="412.6" y2="184.5" stroke="#1a1a1a" stroke-width="1" stroke-dasharray="6,4"/>
<line x1="419.4" y1="184.5" x2="488.8" y2="184.5" stroke="#1a1a1a" stroke-width="1"/>
<line x1="344.4" y1="207.5" x2="412.6" y2="207.5" stroke="#1a1a1a" stroke-width="1" stroke-dasharray="6,4"/>
<line x1="419.4" y1="207.5" x2="488.8" y2="207.5" stroke="#1a1a1a" stroke-width="1"/>
<line x1="344.4" y1="230.5" x2="412.6" y2="230.5" stroke="#1a1a1a" stroke-width="1" stroke-dasharray="6,4"/>
<line x1="419.4" y1="230.5" x2="488.8" y2="230.5" stroke="#1a1a1a" stroke-width="1"/>
<line x1="344.4" y1="252.5" x2="412.6" y2="252.5" stroke="#1a1a1a" stroke-width="1" stroke-dasharray="6,4"/>
<line x1="419.4" y1="252.5" x2="488.8" y2="252.5" stroke="#1a1a1a" stroke-width="1"/>
<line x1="344.4" y1="275.5" x2="412.6" y2="275.5" stroke="#1a1a1a" stroke-width="1" stroke-dasharray="6,4"/>
<line x1="419.4" y1="275.5" x2="488.8" y2="275.5" stroke="#1a1a1a" stroke-width="1"/>
<line x1="419.4" y1="298.5" x2="488.8" y2="298.5" stroke="#1a1a1a" stroke-width="1"/>
<line x1="417.0" y1="161.3" x2="463.2" y2="92.6" stroke="#1a1a1a" stroke-width="1"/>
<line x1="417.0" y1="161.3" x2="488.8" y2="120.8" stroke="#1a1a1a" stroke-width="1"/>
<line x1="417.0" y1="126.4" x2="429.0" y2="142.2" stroke="#1a1a1a" stroke-width="1"/>
<line x1="417.0" y1="126.4" x2="463.0" y2="92.6" stroke="#1a1a1a" stroke-width="1"/>
<line x1="417.0" y1="161.3" x2="365.7" y2="85.7" stroke="#1a1a1a" stroke-width="1" stroke-dasharray="6,4"/>
<line x1="417.0" y1="161.3" x2="344.4" y2="120.8" stroke="#1a1a1a" stroke-width="1" stroke-dasharray="6,4"/>
<line x1="417.0" y1="161.3" x2="379.0" y2="126.4" stroke="#1a1a1a" stroke-width="1" stroke-dasharray="6,4"/>
<path d="M454.5,106 Q462,92 470,85.6" fill="none" stroke="#1a1a1a" stroke-width="1"/>
<line x1="357.0" y1="275.6" x2="380.0" y2="297.0" stroke="#1a1a1a" stroke-width="1" stroke-dasharray="5,4"/>
<line x1="403.0" y1="275.6" x2="380.0" y2="297.0" stroke="#1a1a1a" stroke-width="1" stroke-dasharray="5,4"/>
<line x1="380.5" y1="249.8" x2="380.5" y2="362.0" stroke="#1a1a1a" stroke-width="1"/>
<polyline points="376.0,290.0 380.0,298.0 384.0,290.0" fill="none" stroke="#1a1a1a" stroke-width="1"/>
<rect x="403.5" y="298.5" width="2.0" height="53.0" fill="none" stroke="#1a1a1a" stroke-width="1"/>
<path d="M354.3,298.5 A51.0,51.0 0 0 0 405.3,349.5" fill="none" stroke="#1a1a1a" stroke-width="1"/>
<rect x="327.5" y="227.5" width="4.0" height="64.0" fill="none" stroke="#1a1a1a" stroke-width="1"/>
<path d="M331.4,226.5 A65.0,65.0 0 0 0 266.4,291.5" fill="none" stroke="#1a1a1a" stroke-width="1"/>
<line x1="298.5" y1="244.8" x2="298.5" y2="361.0" stroke="#1a1a1a" stroke-width="1"/>
<line x1="252.5" y1="412.0" x2="252.5" y2="298.5" stroke="#1a1a1a" stroke-width="1"/>
<rect x="132.5" y="88.5" width="30.0" height="24.0" fill="#fff" stroke="#1a1a1a" stroke-width="1"/>
<rect x="283.5" y="88.5" width="30.0" height="24.0" fill="#fff" stroke="#1a1a1a" stroke-width="1"/>
<rect x="162.5" y="86.5" width="121.0" height="155.0" fill="#fff" stroke="#1a1a1a" stroke-width="1"/>
<polyline points="164.5,88.5 164.5,238.5 281.5,238.5 281.5,88.5" fill="none" stroke="#1a1a1a" stroke-width="1"/>
<rect x="166.5" y="93.5" width="53.0" height="32.0" fill="#fff" stroke="#1a1a1a" stroke-width="1"/>
<rect x="228.5" y="93.5" width="51.0" height="32.0" fill="#fff" stroke="#1a1a1a" stroke-width="1"/>
<polyline points="164.4,136.2 178.9,122.4 268.6,122.4 281.3,136.2" fill="#fff" stroke="#1a1a1a" stroke-width="1"/>
<line x1="178.5" y1="122.4" x2="178.5" y2="136.2" stroke="#1a1a1a" stroke-width="1"/>
<line x1="164.4" y1="136.5" x2="178.9" y2="136.5" stroke="#1a1a1a" stroke-width="1"/>
<line x1="268.5" y1="122.4" x2="268.5" y2="136.2" stroke="#1a1a1a" stroke-width="1"/>
<line x1="268.6" y1="136.5" x2="281.3" y2="136.5" stroke="#1a1a1a" stroke-width="1"/>
<rect x="495.7" y="107.2" width="62.2" height="183.3" rx="2" fill="none" stroke="#1a1a1a" stroke-width="1"/>
<line x1="495.7" y1="118.5" x2="557.9" y2="118.5" stroke="#1a1a1a" stroke-width="1"/>
<line x1="495.7" y1="279.5" x2="557.9" y2="279.5" stroke="#1a1a1a" stroke-width="1"/>
<line x1="496.5" y1="118.4" x2="496.5" y2="279.8" stroke="#1a1a1a" stroke-width="1"/>
<rect x="499.3" y="118.4" width="11" height="50.3" rx="4" fill="none" stroke="#1a1a1a" stroke-width="1"/>
<rect x="510.3" y="118.4" width="7.8" height="50.3" rx="1.5" fill="none" stroke="#1a1a1a" stroke-width="1"/>
<rect x="518.1" y="118.4" width="39.6" height="50.3" rx="3" fill="none" stroke="#1a1a1a" stroke-width="1"/>
<rect x="499.3" y="168.7" width="11" height="60.8" rx="4" fill="none" stroke="#1a1a1a" stroke-width="1"/>
<rect x="510.3" y="168.7" width="7.8" height="60.8" rx="1.5" fill="none" stroke="#1a1a1a" stroke-width="1"/>
<rect x="518.1" y="168.7" width="39.6" height="60.8" rx="3" fill="none" stroke="#1a1a1a" stroke-width="1"/>
<rect x="499.3" y="229.5" width="11" height="50.3" rx="4" fill="none" stroke="#1a1a1a" stroke-width="1"/>
<rect x="510.3" y="229.5" width="7.8" height="50.3" rx="1.5" fill="none" stroke="#1a1a1a" stroke-width="1"/>
<rect x="518.1" y="229.5" width="39.6" height="50.3" rx="3" fill="none" stroke="#1a1a1a" stroke-width="1"/>
<circle cx="617.0" cy="199.1" r="22.8" fill="none" stroke="#1a1a1a" stroke-width="1"/>
<polygon points="638.7,123.0 690.4,92.0 722.2,143.5 670.5,174.5" fill="#fff" stroke="#1a1a1a" stroke-width="1"/>
<line x1="671.8" y1="103.2" x2="703.6" y2="154.7" stroke="#1a1a1a" stroke-width="1"/>
<line x1="680.1" y1="98.2" x2="711.9" y2="149.7" stroke="#1a1a1a" stroke-width="1"/>
<line x1="688.8" y1="92.9" x2="720.6" y2="144.4" stroke="#1a1a1a" stroke-width="1"/>
<polygon points="638.7,275.2 690.4,306.2 722.2,254.7 670.5,223.7" fill="#fff" stroke="#1a1a1a" stroke-width="1"/>
<line x1="671.8" y1="295.0" x2="703.6" y2="243.5" stroke="#1a1a1a" stroke-width="1"/>
<line x1="680.1" y1="300.0" x2="711.9" y2="248.5" stroke="#1a1a1a" stroke-width="1"/>
<line x1="688.8" y1="305.3" x2="720.6" y2="253.8" stroke="#1a1a1a" stroke-width="1"/>
<rect x="694.5" y="392.5" width="61.0" height="106.0" fill="none" stroke="#1a1a1a" stroke-width="1"/>
<rect x="710.5" y="353.5" width="30.0" height="37.0" fill="#fff" stroke="#1a1a1a" stroke-width="1"/>
<line x1="710.4" y1="357.5" x2="740.2" y2="357.5" stroke="#1a1a1a" stroke-width="1"/>
<rect x="710.5" y="500.5" width="30.0" height="35.0" fill="#fff" stroke="#1a1a1a" stroke-width="1"/>
<line x1="710.4" y1="532.5" x2="740.2" y2="532.5" stroke="#1a1a1a" stroke-width="1"/>
<rect x="656.5" y="403.5" width="36.0" height="31.0" fill="#fff" stroke="#1a1a1a" stroke-width="1"/>
<line x1="659.5" y1="403.3" x2="659.5" y2="434.2" stroke="#1a1a1a" stroke-width="1"/>
<rect x="656.5" y="457.5" width="36.0" height="29.0" fill="#fff" stroke="#1a1a1a" stroke-width="1"/>
<line x1="659.5" y1="457.6" x2="659.5" y2="486.8" stroke="#1a1a1a" stroke-width="1"/>
<rect x="758.5" y="403.5" width="36.0" height="31.0" fill="#fff" stroke="#1a1a1a" stroke-width="1"/>
<line x1="791.5" y1="403.3" x2="791.5" y2="434.2" stroke="#1a1a1a" stroke-width="1"/>
<rect x="758.5" y="457.5" width="36.0" height="29.0" fill="#fff" stroke="#1a1a1a" stroke-width="1"/>
<line x1="791.5" y1="457.6" x2="791.5" y2="486.8" stroke="#1a1a1a" stroke-width="1"/>
<line x1="719.5" y1="536.0" x2="719.5" y2="642.0" stroke="#1a1a1a" stroke-width="1"/>
<line x1="650.5" y1="601.3" x2="650.5" y2="871.0" stroke="#1a1a1a" stroke-width="1"/>
<line x1="673.5" y1="601.3" x2="673.5" y2="871.0" stroke="#1a1a1a" stroke-width="1"/>
<line x1="695.5" y1="601.3" x2="695.5" y2="871.0" stroke="#1a1a1a" stroke-width="1"/>
<line x1="718.5" y1="601.3" x2="718.5" y2="871.0" stroke="#1a1a1a" stroke-width="1"/>
<line x1="741.5" y1="601.3" x2="741.5" y2="871.0" stroke="#1a1a1a" stroke-width="1"/>
<line x1="763.5" y1="601.3" x2="763.5" y2="871.0" stroke="#1a1a1a" stroke-width="1"/>
<line x1="786.5" y1="601.3" x2="786.5" y2="871.0" stroke="#1a1a1a" stroke-width="1"/>
<line x1="809.5" y1="601.3" x2="809.5" y2="871.0" stroke="#1a1a1a" stroke-width="1"/>
<line x1="833.5" y1="601.3" x2="833.5" y2="871.0" stroke="#1a1a1a" stroke-width="1"/>
<line x1="844.5" y1="601.3" x2="844.5" y2="871.0" stroke="#1a1a1a" stroke-width="1"/>
<line x1="650.5" y1="871.0" x2="650.5" y2="892.0" stroke="#1a1a1a" stroke-width="1"/>
<line x1="673.5" y1="871.0" x2="673.5" y2="892.0" stroke="#1a1a1a" stroke-width="1"/>
<line x1="695.5" y1="871.0" x2="695.5" y2="892.0" stroke="#1a1a1a" stroke-width="1"/>
<line x1="718.5" y1="871.0" x2="718.5" y2="892.0" stroke="#1a1a1a" stroke-width="1"/>
<line x1="741.5" y1="871.0" x2="741.5" y2="892.0" stroke="#1a1a1a" stroke-width="1"/>
<line x1="763.5" y1="871.0" x2="763.5" y2="892.0" stroke="#1a1a1a" stroke-width="1"/>
<line x1="786.5" y1="871.0" x2="786.5" y2="892.0" stroke="#1a1a1a" stroke-width="1"/>
<line x1="630.0" y1="642.5" x2="844.7" y2="642.5" stroke="#1a1a1a" stroke-width="1"/>
<line x1="630.0" y1="688.5" x2="844.7" y2="688.5" stroke="#1a1a1a" stroke-width="1"/>
<line x1="630.0" y1="734.5" x2="844.7" y2="734.5" stroke="#1a1a1a" stroke-width="1"/>
<line x1="630.0" y1="780.5" x2="844.7" y2="780.5" stroke="#1a1a1a" stroke-width="1"/>
<line x1="630.0" y1="826.5" x2="844.7" y2="826.5" stroke="#1a1a1a" stroke-width="1"/>
<line x1="630.0" y1="601.5" x2="808.6" y2="601.5" stroke="#1a1a1a" stroke-width="1" stroke-dasharray="7,4"/>
<line x1="630.0" y1="871.5" x2="802.5" y2="871.5" stroke="#1a1a1a" stroke-width="1" stroke-dasharray="7,4"/>
<line x1="802.5" y1="601.3" x2="802.5" y2="871.0" stroke="#1a1a1a" stroke-width="1" stroke-dasharray="7,4"/>
<rect x="690.5" y="649.5" width="58.0" height="57.0" fill="#fff" stroke="#1a1a1a" stroke-width="1"/>
<rect x="688.5" y="729.5" width="61.0" height="45.0" fill="#fff" stroke="#1a1a1a" stroke-width="1"/>
<rect x="690.5" y="798.5" width="58.0" height="60.0" fill="#fff" stroke="#1a1a1a" stroke-width="1"/>
<line x1="690.0" y1="853.5" x2="748.8" y2="853.5" stroke="#1a1a1a" stroke-width="1"/>
<rect x="802.5" y="871.5" width="57.0" height="21.0" fill="url(#h)" stroke="#1a1a1a" stroke-width="1"/>
<line x1="802.5" y1="892.0" x2="859.3" y2="892.0" stroke="#1a1a1a" stroke-width="2"/>
<clipPath id="c400"><rect x="802.5" y="892" width="56.799999999999955" height="13.700000000000045"/></clipPath>
<g clip-path="url(#c400)">
<polyline points="791.1,892.0 796.8,905.7 802.5,892.0 808.2,905.7 813.9,892.0 819.6,905.7 825.3,892.0 831.0,905.7 836.7,892.0 842.4,905.7 848.1,892.0 853.8,905.7 859.5,892.0 865.2,905.7" fill="none" stroke="#1a1a1a" stroke-width="0.9"/>
</g>
<rect x="802.5" y="892.5" width="57.0" height="13.0" fill="none" stroke="#1a1a1a" stroke-width="1"/>
<line x1="376.6" y1="892.5" x2="802.5" y2="892.5" stroke="#1a1a1a" stroke-width="1"/>
<line x1="376.6" y1="870.5" x2="630.0" y2="870.5" stroke="#1a1a1a" stroke-width="1" stroke-dasharray="7,4"/>
<line x1="376.6" y1="913.5" x2="868.0" y2="913.5" stroke="#1a1a1a" stroke-width="1" stroke-dasharray="7,4"/>
<line x1="71.5" y1="601.3" x2="71.5" y2="1021.0" stroke="#1a1a1a" stroke-width="1"/>
<line x1="107.5" y1="607.0" x2="107.5" y2="963.0" stroke="#1a1a1a" stroke-width="1" stroke-dasharray="7,4"/>
<line x1="107.7" y1="963.5" x2="340.6" y2="963.5" stroke="#1a1a1a" stroke-width="1" stroke-dasharray="7,4"/>
<line x1="71.7" y1="1021.5" x2="376.6" y2="1021.5" stroke="#1a1a1a" stroke-width="1"/>
<rect x="85.5" y="963.5" width="22.0" height="58.0" fill="url(#h)" stroke="#1a1a1a" stroke-width="1"/>
<clipPath id="c413"><rect x="71.7" y="963" width="14.099999999999994" height="58"/></clipPath>
<g clip-path="url(#c413)">
<polyline points="71.7,917.0 85.8,940.0 71.7,963.0 85.8,986.0 71.7,1009.0 85.8,1032.0 71.7,1055.0" fill="none" stroke="#1a1a1a" stroke-width="0.9"/>
<polyline points="85.8,917.0 71.7,940.0 85.8,963.0 71.7,986.0 85.8,1009.0 71.7,1032.0 85.8,1055.0" fill="none" stroke="#1a1a1a" stroke-width="0.9"/>
</g>
<rect x="71.5" y="963.5" width="36.0" height="58.0" fill="none" stroke="#1a1a1a" stroke-width="1"/>
<line x1="86.0" y1="963.0" x2="86.0" y2="1021.0" stroke="#1a1a1a" stroke-width="2"/>
<rect x="340.5" y="870.5" width="22.0" height="57.0" fill="url(#h)" stroke="#1a1a1a" stroke-width="1"/>
<clipPath id="c421"><rect x="362.3" y="870.4" width="14.300000000000011" height="56.700000000000045"/></clipPath>
<g clip-path="url(#c421)">
<polyline points="362.3,824.4 376.6,847.4 362.3,870.4 376.6,893.4 362.3,916.4 376.6,939.4 362.3,962.4" fill="none" stroke="#1a1a1a" stroke-width="0.9"/>
<polyline points="376.6,824.4 362.3,847.4 376.6,870.4 362.3,893.4 376.6,916.4 362.3,939.4 376.6,962.4" fill="none" stroke="#1a1a1a" stroke-width="0.9"/>
</g>
<rect x="340.5" y="870.5" width="36.0" height="57.0" fill="none" stroke="#1a1a1a" stroke-width="1"/>
<line x1="362.0" y1="870.4" x2="362.0" y2="927.1" stroke="#1a1a1a" stroke-width="2"/>
<rect x="340.5" y="963.5" width="22.0" height="58.0" fill="url(#h)" stroke="#1a1a1a" stroke-width="1"/>
<clipPath id="c429"><rect x="362.3" y="963" width="14.300000000000011" height="58"/></clipPath>
<g clip-path="url(#c429)">
<polyline points="362.3,917.0 376.6,940.0 362.3,963.0 376.6,986.0 362.3,1009.0 376.6,1032.0 362.3,1055.0" fill="none" stroke="#1a1a1a" stroke-width="0.9"/>
<polyline points="376.6,917.0 362.3,940.0 376.6,963.0 362.3,986.0 376.6,1009.0 362.3,1032.0 376.6,1055.0" fill="none" stroke="#1a1a1a" stroke-width="0.9"/>
</g>
<rect x="340.5" y="963.5" width="36.0" height="58.0" fill="none" stroke="#1a1a1a" stroke-width="1"/>
<line x1="362.0" y1="963.0" x2="362.0" y2="1021.0" stroke="#1a1a1a" stroke-width="2"/>
<line x1="340.5" y1="927.1" x2="340.5" y2="963.0" stroke="#1a1a1a" stroke-width="1" stroke-dasharray="6,4"/>
<line x1="376.5" y1="927.1" x2="376.5" y2="963.0" stroke="#1a1a1a" stroke-width="1"/>
<polygon points="222.4,617.2 295.4,943.2 149.0,943.2" fill="none" stroke="#1a1a1a" stroke-width="1"/>
<polygon points="222.4,656.0 284.8,934.7 159.6,934.7" fill="none" stroke="#1a1a1a" stroke-width="1"/>
<polygon points="222.4,636.6 290.1,939.0 154.3,939.0" fill="none" stroke="#1a1a1a" stroke-width="0.9" stroke-dasharray="5,4"/>
<line x1="0" y1="304.5" x2="883.6" y2="304.5" stroke="#1a1a1a" stroke-width="1" stroke-dasharray="28.3,22.6" stroke-dashoffset="10.4"/>
<line x1="47.7" y1="5.5" x2="866.0" y2="5.5" stroke="#1a1a1a" stroke-width="1"/>
<line x1="56.5" y1="0.0" x2="56.5" y2="9.0" stroke="#1a1a1a" stroke-width="1"/>
<line x1="52.3" y1="9.8" x2="60.3" y2="1.8" stroke="#1a1a1a" stroke-width="1.2"/>
<line x1="416.5" y1="0.0" x2="416.5" y2="85.6" stroke="#1a1a1a" stroke-width="1"/>
<line x1="410.8" y1="11.5" x2="422.7" y2="0.0" stroke="#1a1a1a" stroke-width="1.2"/>
<line x1="454.5" y1="0.0" x2="454.5" y2="21.0" stroke="#1a1a1a" stroke-width="1"/>
<line x1="454.5" y1="45.0" x2="454.5" y2="72.0" stroke="#1a1a1a" stroke-width="1"/>
<line x1="859.5" y1="0.0" x2="859.5" y2="10.0" stroke="#1a1a1a" stroke-width="1"/>
<line x1="855.5" y1="9.8" x2="863.5" y2="1.8" stroke="#1a1a1a" stroke-width="1.2"/>
<line x1="0.0" y1="211.5" x2="138.0" y2="211.5" stroke="#1a1a1a" stroke-width="1"/>
<line x1="0.0" y1="268.5" x2="138.0" y2="268.5" stroke="#1a1a1a" stroke-width="1"/>
<line x1="7.0" y1="474.5" x2="154.0" y2="474.5" stroke="#1a1a1a" stroke-width="1"/>
<line x1="777.7" y1="142.5" x2="906.0" y2="142.5" stroke="#1a1a1a" stroke-width="1"/>
<line x1="777.7" y1="233.5" x2="906.0" y2="233.5" stroke="#1a1a1a" stroke-width="1"/>
<line x1="762.6" y1="395.5" x2="906.0" y2="395.5" stroke="#1a1a1a" stroke-width="1"/>
<line x1="758.3" y1="487.5" x2="906.0" y2="487.5" stroke="#1a1a1a" stroke-width="1"/>
<line x1="202.0" y1="445.5" x2="318.0" y2="445.5" stroke="#1a1a1a" stroke-width="1"/>
<line x1="442.4" y1="643.5" x2="564.2" y2="643.5" stroke="#1a1a1a" stroke-width="1"/>
<line x1="524.5" y1="592.0" x2="524.5" y2="925.0" stroke="#1a1a1a" stroke-width="1"/>
<line x1="455.5" y1="520.0" x2="455.5" y2="666.0" stroke="#1a1a1a" stroke-width="1"/>
<line x1="455.5" y1="682.5" x2="455.5" y2="986" stroke="#1a1a1a" stroke-width="1" stroke-dasharray="33,17,27,13" stroke-dashoffset="12"/>
<line x1="454.5" y1="303" x2="454.5" y2="472" stroke="#1a1a1a" stroke-width="1" stroke-dasharray="25,22"/>
<line x1="518.0" y1="595.0" x2="531.0" y2="607.0" stroke="#1a1a1a" stroke-width="1.2"/>
<line x1="309.4" y1="625.0" x2="300.5" y2="633.0" stroke="#1a1a1a" stroke-width="1"/>
<line x1="309.4" y1="625.0" x2="318.3" y2="633.0" stroke="#1a1a1a" stroke-width="1"/>
<line x1="520.5" y1="877.0" x2="528.5" y2="869.0" stroke="#1a1a1a" stroke-width="1.2"/>
<line x1="520.5" y1="896.9" x2="528.5" y2="888.9" stroke="#1a1a1a" stroke-width="1.2"/>
<polygon points="454.9,984.0 431.7,996.2 454.9,1008.3" fill="none" stroke="#1a1a1a" stroke-width="2.5"/>
<circle cx="79.5" cy="43.7" r="6.2" fill="#000" stroke="#1a1a1a" stroke-width="0"/>
<line x1="79.5" y1="43.7" x2="59.0" y2="24.0" stroke="#1a1a1a" stroke-width="1"/>
<circle cx="836.7" cy="43.7" r="6.2" fill="#000" stroke="#1a1a1a" stroke-width="0"/>
<line x1="836.7" y1="43.7" x2="857.0" y2="22.0" stroke="#1a1a1a" stroke-width="1"/>
<circle cx="78.8" cy="606.2" r="6.2" fill="#000" stroke="#1a1a1a" stroke-width="0"/>
<line x1="78.8" y1="606.2" x2="58.0" y2="628.0" stroke="#1a1a1a" stroke-width="1"/>
<circle cx="352.3" cy="863.7" r="6.2" fill="#000" stroke="#1a1a1a" stroke-width="0"/>
<line x1="352.3" y1="863.7" x2="373.0" y2="843.0" stroke="#1a1a1a" stroke-width="1"/>
<circle cx="838.0" cy="606.5" r="6.2" fill="#000" stroke="#1a1a1a" stroke-width="0"/>
<line x1="838.0" y1="606.5" x2="856.0" y2="625.0" stroke="#1a1a1a" stroke-width="1"/>
<g transform="rotate(30 594.2 285.4)">
<circle cx="594.2" cy="285.4" r="6.8" fill="none" stroke="#000" stroke-width="2.2"/>
<path d="M594.2,285.4 L594.2,277.9 A7.5,7.5 0 0 1 601.7,285.4 Z" fill="#000"/>
<path d="M594.2,285.4 L594.2,292.9 A7.5,7.5 0 0 1 586.7,285.4 Z" fill="#000"/>
<path d="M579.7,285.4 L608.7,285.4 M594.2,270.9 L594.2,299.9" stroke="#000" stroke-width="3.6" stroke-linecap="round"/>
</g>
<g transform="rotate(0 322.2 737.2)">
<circle cx="322.2" cy="737.2" r="6.8" fill="none" stroke="#000" stroke-width="2.2"/>
<path d="M322.2,737.2 L322.2,729.7 A7.5,7.5 0 0 1 329.7,737.2 Z" fill="#000"/>
<path d="M322.2,737.2 L322.2,744.7 A7.5,7.5 0 0 1 314.7,737.2 Z" fill="#000"/>
<path d="M307.7,737.2 L336.7,737.2 M322.2,722.7 L322.2,751.7" stroke="#000" stroke-width="3.6" stroke-linecap="round"/>
</g>
<g transform="rotate(-20 422.5 699.2)">
<circle cx="422.5" cy="699.2" r="6.8" fill="none" stroke="#000" stroke-width="2.2"/>
<path d="M422.5,699.2 L422.5,691.7 A7.5,7.5 0 0 1 430.0,699.2 Z" fill="#000"/>
<path d="M422.5,699.2 L422.5,706.7 A7.5,7.5 0 0 1 415.0,699.2 Z" fill="#000"/>
<path d="M408.0,699.2 L437.0,699.2 M422.5,684.7 L422.5,713.7" stroke="#000" stroke-width="3.6" stroke-linecap="round"/>
</g>
<g transform="rotate(10 782 796)">
<circle cx="782.0" cy="796.0" r="6.8" fill="none" stroke="#000" stroke-width="2.2"/>
<path d="M782,796 L782,788.5 A7.5,7.5 0 0 1 789.5,796 Z" fill="#000"/>
<path d="M782,796 L782,803.5 A7.5,7.5 0 0 1 774.5,796 Z" fill="#000"/>
<path d="M767.5,796 L796.5,796 M782,781.5 L782,810.5" stroke="#000" stroke-width="3.6" stroke-linecap="round"/>
</g>
<g transform="rotate(45 6 98)">
<circle cx="6.0" cy="98.0" r="6.8" fill="none" stroke="#000" stroke-width="2.2"/>
<path d="M6,98 L6,90.5 A7.5,7.5 0 0 1 13.5,98 Z" fill="#000"/>
<path d="M6,98 L6,105.5 A7.5,7.5 0 0 1 -1.5,98 Z" fill="#000"/>
<path d="M-8.5,98 L20.5,98 M6,83.5 L6,112.5" stroke="#000" stroke-width="3.6" stroke-linecap="round"/>
</g>
<text x="179.7" y="181.5" font-family="Liberation Sans" font-size="18" font-weight="bold" text-anchor="start" fill="#111" textLength="69.8" lengthAdjust="spacingAndGlyphs">SZOBA</text>
<text x="166.5" y="203.6" font-family="Liberation Sans" font-size="17.5" font-weight="normal" text-anchor="start" fill="#333" textLength="97.1" lengthAdjust="spacingAndGlyphs">lam.parketta</text>
<text x="181.0" y="223.0" font-family="Liberation Sans" font-size="17.5" font-weight="normal" text-anchor="start" fill="#333" textLength="69.9" lengthAdjust="spacingAndGlyphs">10,18 m<tspan font-size="11.9" dy="-7.3">2</tspan></text>
<text x="413.3" y="181.4" font-family="Liberation Sans" font-size="18" font-weight="bold" text-anchor="start" fill="#111" textLength="82.1" lengthAdjust="spacingAndGlyphs">LÉPCSŐ</text>
<text x="422.6" y="202.6" font-family="Liberation Sans" font-size="17.5" font-weight="normal" text-anchor="start" fill="#333" textLength="63.6" lengthAdjust="spacingAndGlyphs">kerámia</text>
<text x="423.4" y="223.3" font-family="Liberation Sans" font-size="17.5" font-weight="normal" text-anchor="start" fill="#333" textLength="61.8" lengthAdjust="spacingAndGlyphs">2,57 m<tspan font-size="11.9" dy="-7.3">2</tspan></text>
<text x="354.1" y="204.7" font-family="Liberation Sans" font-size="18" font-weight="bold" text-anchor="start" fill="#111" textLength="48.1" lengthAdjust="spacingAndGlyphs">KRA.</text>
<text x="347.0" y="227.7" font-family="Liberation Sans" font-size="17.5" font-weight="normal" text-anchor="start" fill="#333" textLength="63.3" lengthAdjust="spacingAndGlyphs">kerámia</text>
<text x="348.0" y="248.0" font-family="Liberation Sans" font-size="17.5" font-weight="normal" text-anchor="start" fill="#333" textLength="61.8" lengthAdjust="spacingAndGlyphs">2,48 m<tspan font-size="11.9" dy="-7.3">2</tspan></text>
<text x="266.0" y="376.7" font-family="Liberation Sans" font-size="18" font-weight="bold" text-anchor="start" fill="#111" textLength="108.8" lengthAdjust="spacingAndGlyphs">E.T.-GARD.</text>
<text x="288.5" y="399.2" font-family="Liberation Sans" font-size="17.5" font-weight="normal" text-anchor="start" fill="#333" textLength="63.8" lengthAdjust="spacingAndGlyphs">kerámia</text>
<text x="289.4" y="419.5" font-family="Liberation Sans" font-size="17.5" font-weight="normal" text-anchor="start" fill="#333" textLength="61.9" lengthAdjust="spacingAndGlyphs">8,02 m<tspan font-size="11.9" dy="-7.3">2</tspan></text>
<text x="523.4" y="347.7" font-family="Liberation Sans" font-size="18" font-weight="bold" text-anchor="start" fill="#111" textLength="178.1" lengthAdjust="spacingAndGlyphs">NAPPALI-ÉTKEZŐ</text>
<text x="579.5" y="369.2" font-family="Liberation Sans" font-size="17.5" font-weight="normal" text-anchor="start" fill="#333" textLength="63.5" lengthAdjust="spacingAndGlyphs">kerámia</text>
<text x="576.8" y="390.8" font-family="Liberation Sans" font-size="17.5" font-weight="normal" text-anchor="start" fill="#333" textLength="70.7" lengthAdjust="spacingAndGlyphs">26,87 m<tspan font-size="11.9" dy="-7.3">2</tspan></text>
<text x="448.6" y="442.9" font-family="Liberation Sans" font-size="18" font-weight="bold" text-anchor="start" fill="#111" textLength="87.6" lengthAdjust="spacingAndGlyphs">KONYHA</text>
<text x="460.5" y="463.6" font-family="Liberation Sans" font-size="17.5" font-weight="normal" text-anchor="start" fill="#333" textLength="62.7" lengthAdjust="spacingAndGlyphs">kerámia</text>
<text x="461.7" y="484.9" font-family="Liberation Sans" font-size="17.5" font-weight="normal" text-anchor="start" fill="#333" textLength="61.1" lengthAdjust="spacingAndGlyphs">5,04 m<tspan font-size="11.9" dy="-7.3">2</tspan></text>
<text x="163.3" y="482.9" font-family="Liberation Sans" font-size="18" font-weight="bold" text-anchor="start" fill="#111" textLength="46.8" lengthAdjust="spacingAndGlyphs">ZUH.</text>
<text x="156.0" y="503.9" font-family="Liberation Sans" font-size="17.5" font-weight="normal" text-anchor="start" fill="#333" textLength="63.4" lengthAdjust="spacingAndGlyphs">kerámia</text>
<text x="156.4" y="524.6" font-family="Liberation Sans" font-size="17.5" font-weight="normal" text-anchor="start" fill="#333" textLength="62.6" lengthAdjust="spacingAndGlyphs">4,86 m<tspan font-size="11.9" dy="-7.3">2</tspan></text>
<text x="658.4" y="659.4" font-family="Liberation Sans" font-size="18" font-weight="bold" text-anchor="start" fill="#111" textLength="169.5" lengthAdjust="spacingAndGlyphs">FEDETT TERASZ</text>
<text x="676.8" y="680.7" font-family="Liberation Sans" font-size="17.5" font-weight="normal" text-anchor="start" fill="#333" textLength="130.9" lengthAdjust="spacingAndGlyphs">fagyálló lapburk.</text>
<text x="708.7" y="701.7" font-family="Liberation Sans" font-size="17.5" font-weight="normal" text-anchor="start" fill="#333" textLength="68.2" lengthAdjust="spacingAndGlyphs">11,07 m<tspan font-size="11.9" dy="-7.3">2</tspan></text>
<text x="450.3" y="725.8" font-family="Liberation Sans" font-size="18" font-weight="bold" text-anchor="start" fill="#111" textLength="219.7" lengthAdjust="spacingAndGlyphs">GÉPÉSZETI HELYSÉG</text>
<text x="527.6" y="748.5" font-family="Liberation Sans" font-size="17.5" font-weight="normal" text-anchor="start" fill="#333" textLength="62.9" lengthAdjust="spacingAndGlyphs">kerámia</text>
<text x="528.0" y="768.6" font-family="Liberation Sans" font-size="17.5" font-weight="normal" text-anchor="start" fill="#333" textLength="62.5" lengthAdjust="spacingAndGlyphs">5,71 m<tspan font-size="11.9" dy="-7.3">2</tspan></text>
<text x="122.8" y="798.0" font-family="Liberation Sans" font-size="18" font-weight="bold" text-anchor="start" fill="#111" textLength="199.4" lengthAdjust="spacingAndGlyphs">GÉPKOCSI BEÁLLÓ</text>
<text x="186.0" y="820.4" font-family="Liberation Sans" font-size="17.5" font-weight="normal" text-anchor="start" fill="#333" textLength="73.0" lengthAdjust="spacingAndGlyphs">26,81 m<tspan font-size="11.9" dy="-7.3">2</tspan></text>
<text x="379.0" y="115.7" font-family="Liberation Sans" font-size="17.5" font-weight="normal" text-anchor="start" fill="#333" textLength="73.0" lengthAdjust="spacingAndGlyphs">pm 1,70</text>
<text x="428.5" y="549.8" font-family="Liberation Sans" font-size="17.5" font-weight="normal" text-anchor="start" fill="#333" textLength="54.9" lengthAdjust="spacingAndGlyphs">pm 90</text>
<text x="10.8" y="204.0" font-family="Liberation Sans" font-size="17.5" font-weight="normal" text-anchor="start" fill="#333" textLength="22.4" lengthAdjust="spacingAndGlyphs">90</text>
<text x="10.8" y="234.1" font-family="Liberation Sans" font-size="17.5" font-weight="normal" text-anchor="start" fill="#333" textLength="38.7" lengthAdjust="spacingAndGlyphs">2,40</text>
<text x="10.8" y="260.4" font-family="Liberation Sans" font-size="17.5" font-weight="normal" text-anchor="start" fill="#333" textLength="22.4" lengthAdjust="spacingAndGlyphs">60</text>
<text x="10.8" y="290.5" font-family="Liberation Sans" font-size="17.5" font-weight="normal" text-anchor="start" fill="#333" textLength="38.7" lengthAdjust="spacingAndGlyphs">2,40</text>
<text x="26.5" y="466.0" font-family="Liberation Sans" font-size="17.5" font-weight="normal" text-anchor="start" fill="#333" textLength="21.2" lengthAdjust="spacingAndGlyphs">60</text>
<text x="28.5" y="496.0" font-family="Liberation Sans" font-size="17.5" font-weight="normal" text-anchor="start" fill="#333" textLength="37.5" lengthAdjust="spacingAndGlyphs">1,50</text>
<text x="883.3" y="134.2" font-family="Liberation Sans" font-size="17.5" font-weight="normal" text-anchor="start" fill="#333" textLength="20.9" lengthAdjust="spacingAndGlyphs">90</text>
<text x="865.6" y="164.0" font-family="Liberation Sans" font-size="17.5" font-weight="normal" text-anchor="start" fill="#333" textLength="38.6" lengthAdjust="spacingAndGlyphs">2,40</text>
<text x="867.7" y="226.0" font-family="Liberation Sans" font-size="17.5" font-weight="normal" text-anchor="start" fill="#333" textLength="36.5" lengthAdjust="spacingAndGlyphs">1,50</text>
<text x="865.6" y="255.9" font-family="Liberation Sans" font-size="17.5" font-weight="normal" text-anchor="start" fill="#333" textLength="38.6" lengthAdjust="spacingAndGlyphs">2,40</text>
<text x="867.0" y="387.8" font-family="Liberation Sans" font-size="17.5" font-weight="normal" text-anchor="start" fill="#333" textLength="23.0" lengthAdjust="spacingAndGlyphs">90</text>
<text x="850.5" y="417.6" font-family="Liberation Sans" font-size="17.5" font-weight="normal" text-anchor="start" fill="#333" textLength="39.5" lengthAdjust="spacingAndGlyphs">2,40</text>
<text x="850.5" y="479.0" font-family="Liberation Sans" font-size="17.5" font-weight="normal" text-anchor="start" fill="#333" textLength="39.5" lengthAdjust="spacingAndGlyphs">1,50</text>
<text x="850.5" y="509.0" font-family="Liberation Sans" font-size="17.5" font-weight="normal" text-anchor="start" fill="#333" textLength="39.5" lengthAdjust="spacingAndGlyphs">2,40</text>
<text x="276.0" y="436.4" font-family="Liberation Sans" font-size="17.5" font-weight="normal" text-anchor="start" fill="#333" textLength="21.0" lengthAdjust="spacingAndGlyphs">75</text>
<text x="258.4" y="466.2" font-family="Liberation Sans" font-size="17.5" font-weight="normal" text-anchor="start" fill="#333" textLength="38.6" lengthAdjust="spacingAndGlyphs">2,10</text>
<text x="507.3" y="637.0" font-family="Liberation Sans" font-size="17.5" font-weight="normal" text-anchor="start" fill="#333" textLength="38.4" lengthAdjust="spacingAndGlyphs">1,00</text>
<text x="507.3" y="666.0" font-family="Liberation Sans" font-size="17.5" font-weight="normal" text-anchor="start" fill="#333" textLength="38.4" lengthAdjust="spacingAndGlyphs">2,10</text>
<text x="338.0" y="720.5" font-family="Liberation Sans" font-size="17.5" font-weight="normal" text-anchor="start" fill="#333" textLength="46.0" lengthAdjust="spacingAndGlyphs">-0,12</text>
<text x="123.6" y="248.0" font-family="Liberation Sans" font-size="19" font-weight="normal" text-anchor="start" fill="#2a2a2a" transform="rotate(-90 123.6 248.0)" textLength="71.4" lengthAdjust="spacingAndGlyphs">pm 0,00</text>
<text x="808.0" y="270.0" font-family="Liberation Sans" font-size="19" font-weight="normal" text-anchor="start" fill="#2a2a2a" transform="rotate(-90 808.0 270.0)" textLength="73.8" lengthAdjust="spacingAndGlyphs">pm 0,00</text>
<text x="808.0" y="178.5" font-family="Liberation Sans" font-size="19" font-weight="normal" text-anchor="start" fill="#2a2a2a" transform="rotate(-90 808.0 178.5)" textLength="73.5" lengthAdjust="spacingAndGlyphs">pm 0,00</text>
<text x="793.5" y="430.5" font-family="Liberation Sans" font-size="19" font-weight="normal" text-anchor="start" fill="#2a2a2a" transform="rotate(-90 793.5 430.5)" textLength="72.2" lengthAdjust="spacingAndGlyphs">pm 0,00</text>
<text x="793.5" y="523.7" font-family="Liberation Sans" font-size="19" font-weight="normal" text-anchor="start" fill="#2a2a2a" transform="rotate(-90 793.5 523.7)" textLength="73.0" lengthAdjust="spacingAndGlyphs">pm 0,00</text>
<rect x="758.5" y="403.5" width="35.0" height="30.0" fill="#fff" stroke="#1a1a1a" stroke-width="1"/>
<line x1="790.5" y1="403.4" x2="790.5" y2="433.9" stroke="#1a1a1a" stroke-width="1"/>
<rect x="758.5" y="457.5" width="35.0" height="30.0" fill="#fff" stroke="#1a1a1a" stroke-width="1"/>
<line x1="790.5" y1="457.1" x2="790.5" y2="487.6" stroke="#1a1a1a" stroke-width="1"/>
<text x="138.6" y="501.4" font-family="Liberation Sans" font-size="19" font-weight="normal" text-anchor="start" fill="#2a2a2a" transform="rotate(-90 138.6 501.4)" textLength="55.2" lengthAdjust="spacingAndGlyphs">pm 90</text>
<text x="290.3" y="342.5" font-family="Liberation Sans" font-size="19" font-weight="normal" text-anchor="start" fill="#2a2a2a" transform="rotate(-90 290.3 342.5)" textLength="20.6" lengthAdjust="spacingAndGlyphs">90</text>
<text x="321.3" y="342.5" font-family="Liberation Sans" font-size="19" font-weight="normal" text-anchor="start" fill="#2a2a2a" transform="rotate(-90 321.3 342.5)" textLength="39.4" lengthAdjust="spacingAndGlyphs">2,10</text>
<text x="373.8" y="342.5" font-family="Liberation Sans" font-size="19" font-weight="normal" text-anchor="start" fill="#2a2a2a" transform="rotate(-90 373.8 342.5)" textLength="21.5" lengthAdjust="spacingAndGlyphs">75</text>
<text x="402.5" y="342.5" font-family="Liberation Sans" font-size="19" font-weight="normal" text-anchor="start" fill="#2a2a2a" transform="rotate(-90 402.5 342.5)" textLength="39.4" lengthAdjust="spacingAndGlyphs">2,10</text>
<text x="408.3" y="26.5" font-family="Liberation Sans" font-size="19" font-weight="normal" text-anchor="start" fill="#2a2a2a" transform="rotate(-90 408.3 26.5)" textLength="23.2" lengthAdjust="spacingAndGlyphs">90</text>
<text x="438.0" y="26.5" font-family="Liberation Sans" font-size="19" font-weight="normal" text-anchor="start" fill="#2a2a2a" transform="rotate(-90 438.0 26.5)" textLength="23.2" lengthAdjust="spacingAndGlyphs">70</text>
<text x="302.5" y="645.0" font-family="Liberation Sans" font-size="19" font-weight="normal" text-anchor="start" fill="#2a2a2a" transform="rotate(-90 302.5 645.0)" textLength="37.5" lengthAdjust="spacingAndGlyphs">1,50</text>
<text x="332.5" y="646.0" font-family="Liberation Sans" font-size="19" font-weight="normal" text-anchor="start" fill="#2a2a2a" transform="rotate(-90 332.5 646.0)" textLength="38.5" lengthAdjust="spacingAndGlyphs">2,40</text>
<text x="449.0" y="646.0" font-family="Liberation Sans" font-size="19" font-weight="normal" text-anchor="start" fill="#2a2a2a" transform="rotate(-90 449.0 646.0)" textLength="21.0" lengthAdjust="spacingAndGlyphs">95</text>
<text x="479.0" y="646.0" font-family="Liberation Sans" font-size="19" font-weight="normal" text-anchor="start" fill="#2a2a2a" transform="rotate(-90 479.0 646.0)" textLength="21.0" lengthAdjust="spacingAndGlyphs">60</text>
<text x="711.9" y="645.0" font-family="Liberation Sans" font-size="19" font-weight="normal" text-anchor="start" fill="#2a2a2a" transform="rotate(-90 711.9 645.0)" textLength="37.7" lengthAdjust="spacingAndGlyphs">2,35</text>
<text x="741.2" y="645.0" font-family="Liberation Sans" font-size="19" font-weight="normal" text-anchor="start" fill="#2a2a2a" transform="rotate(-90 741.2 645.0)" textLength="37.7" lengthAdjust="spacingAndGlyphs">2,40</text>
<text x="522.0" y="823.0" font-family="Liberation Sans" font-size="19" font-weight="normal" text-anchor="start" fill="#2a2a2a" transform="rotate(-90 522.0 823.0)" textLength="36.0" lengthAdjust="spacingAndGlyphs">3,57</text>
<text x="521.5" y="921.0" font-family="Liberation Sans" font-size="19" font-weight="normal" text-anchor="start" fill="#2a2a2a" transform="rotate(-90 521.5 921.0)" textLength="21.3" lengthAdjust="spacingAndGlyphs">25</text>
<text x="219.5" y="2.5" font-family="Liberation Sans" font-size="17.5" font-weight="normal" text-anchor="start" fill="#333" textLength="36.5" lengthAdjust="spacingAndGlyphs">1,70</text>
<text x="618.8" y="2.5" font-family="Liberation Sans" font-size="17.5" font-weight="normal" text-anchor="start" fill="#333" textLength="38.2" lengthAdjust="spacingAndGlyphs">5,55</text>
<text x="596.7" y="265.0" font-family="Liberation Sans" font-size="17.5" font-weight="normal" text-anchor="start" fill="#2a2a2a" transform="rotate(-39 596.7 265.0)" textLength="48.0" lengthAdjust="spacingAndGlyphs">±0,00</text>
<text x="442.4" y="690.0" font-family="Liberation Sans" font-size="17.5" font-weight="normal" text-anchor="start" fill="#2a2a2a" transform="rotate(12 442.4 690.0)" textLength="46.0" lengthAdjust="spacingAndGlyphs">-0,12</text>
<text x="805.0" y="787.0" font-family="Liberation Sans" font-size="17.5" font-weight="normal" text-anchor="start" fill="#2a2a2a" transform="rotate(8 805.0 787.0)" textLength="45.0" lengthAdjust="spacingAndGlyphs">-0,02</text>
<text x="3.0" y="75.5" font-family="Liberation Sans" font-size="17.5" font-weight="normal" text-anchor="start" fill="#2a2a2a" transform="rotate(-50 3.0 75.5)" textLength="44.0" lengthAdjust="spacingAndGlyphs">-0,15</text>
<text x="50.0" y="21.0" font-family="Liberation Sans" font-size="15.5" font-weight="normal" text-anchor="end" fill="#2a2a2a" transform="rotate(45 50.0 21.0)">lefolyó Ø100</text>
<text x="862.0" y="25.0" font-family="Liberation Sans" font-size="15.5" font-weight="normal" text-anchor="start" fill="#2a2a2a" transform="rotate(-45 862.0 25.0)">lefolyó Ø100</text>
<text x="856.0" y="628.0" font-family="Liberation Sans" font-size="15.5" font-weight="normal" text-anchor="start" fill="#2a2a2a" transform="rotate(45 856.0 628.0)">lefolyó Ø100</text>
<text x="58.0" y="633.0" font-family="Liberation Sans" font-size="15.5" font-weight="normal" text-anchor="end" fill="#2a2a2a" transform="rotate(-45 58.0 633.0)">lefolyó Ø100</text>
<text x="374.0" y="845.0" font-family="Liberation Sans" font-size="15.5" font-weight="normal" text-anchor="start" fill="#2a2a2a" transform="rotate(-45 374.0 845.0)">lefolyó Ø100</text>
<text x="79.0" y="1034.5" font-family="Liberation Sans" font-size="17.5" font-weight="normal" text-anchor="start" fill="#333" textLength="24.0" lengthAdjust="spacingAndGlyphs">90</text>
<text x="185.6" y="1034.5" font-family="Liberation Sans" font-size="17.5" font-weight="normal" text-anchor="start" fill="#333" textLength="34.0" lengthAdjust="spacingAndGlyphs">2,40</text>
<text x="365.0" y="1034.5" font-family="Liberation Sans" font-size="17.5" font-weight="normal" text-anchor="start" fill="#333" textLength="35.0" lengthAdjust="spacingAndGlyphs">1,00</text>
<text x="564.6" y="1034.5" font-family="Liberation Sans" font-size="17.5" font-weight="normal" text-anchor="start" fill="#333" textLength="42.4" lengthAdjust="spacingAndGlyphs">2,45</text>
<text x="762.0" y="1034.5" font-family="Liberation Sans" font-size="17.5" font-weight="normal" text-anchor="start" fill="#333" textLength="42.0" lengthAdjust="spacingAndGlyphs">1,00</text>
<text x="865.5" y="1034.5" font-family="Liberation Sans" font-size="17.5" font-weight="normal" text-anchor="start" fill="#333" textLength="23.5" lengthAdjust="spacingAndGlyphs">90</text>
<line x1="426.0" y1="1024.5" x2="448.0" y2="1015.5" stroke="#1a1a1a" stroke-width="3"/>
<line x1="440.5" y1="1018.0" x2="440.5" y2="1024.5" stroke="#1a1a1a" stroke-width="2.5"/>
<line x1="420.5" y1="298.5" x2="420.5" y2="382.3" stroke="#1a1a1a" stroke-width="1" stroke-dasharray="6,4"/>
<line x1="808.5" y1="362.0" x2="808.5" y2="544.2" stroke="#1a1a1a" stroke-width="1"/>
</svg>
</body></html>
